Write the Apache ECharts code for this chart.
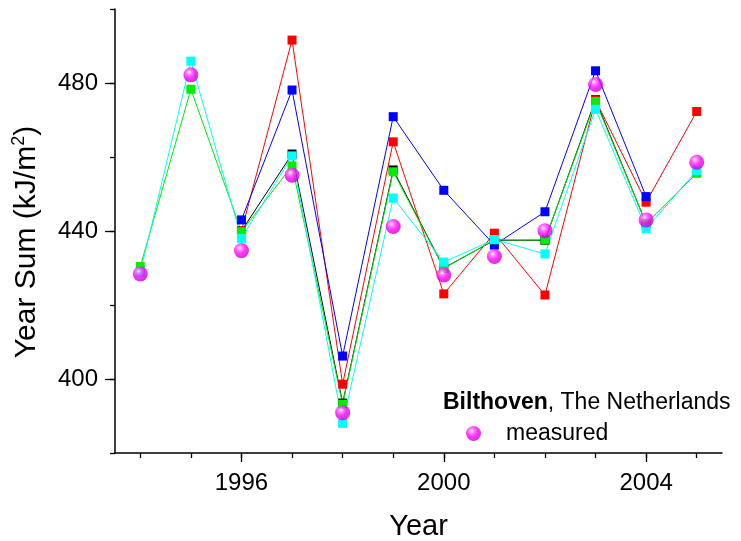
<!DOCTYPE html>
<html>
<head>
<meta charset="utf-8">
<title>Bilthoven year sums</title>
<script src="https://cdn.jsdelivr.net/npm/echarts@6/dist/echarts.min.js"></script>
<style>
  html, body { margin: 0; padding: 0; background: #fff; }
  #chart { width: 741px; height: 541px; }
</style>
</head>
<body>
<div id="chart"></div>
<script>
// Years on the horizontal axis
const years = [1994, 1995, 1996, 1997, 1998, 1999, 2000, 2001, 2002, 2003, 2004, 2005];

// Modelled year sums (kJ/m²); null where a model has no value
const blackValues = [null, null, 440.0, 460.8, 393.5, 456.5, 430.0, 437.5, 437.5, 475.5, 442.0, null];
const redValues   = [null, null, 440.0, 491.6, 398.6, 464.1, 423.0, 439.4, 422.7, 475.4, 447.8, 472.3];
const blueValues  = [null, null, 443.0, 478.1, 406.2, 470.9, 451.0, 436.2, 445.2, 483.3, 449.3, null];
const greenValues = [430.4, 478.3, 439.8, 457.6, 393.2, 456.0, 429.9, 437.6, 437.6, 475.0, 442.0, 455.6];
const cyanValues  = [428.8, 485.9, 438.0, 460.3, 388.0, 448.9, 431.6, 437.7, 433.8, 472.9, 440.6, 456.3];

// Measured year sums
const measuredValues = [428.4, 482.2, 434.7, 455.1, 390.9, 441.2, 428.1, 433.1, 440.1, 479.6, 443.0, 458.6];

// Axis tick labels
const xTickLabels = [1996, 2000, 2004];
const yTickLabels = [400, 440, 480];
const yMinorTicks = [380, 400, 420, 440, 460, 480, 500];

const FONT = '"Liberation Sans", Arial, Helvetica, sans-serif';

function pairs(values) {
  const out = [];
  values.forEach((v, i) => { if (v !== null) out.push([years[i], v]); });
  return out;
}

function modelSeries(name, values, color) {
  return {
    name: name,
    type: 'line',
    data: pairs(values),
    symbol: 'rect',
    symbolSize: 9,
    lineStyle: { color: color, width: 1 },
    itemStyle: { color: color },
    emphasis: { disabled: true },
    animation: false
  };
}

const sphere = {
  type: 'radial', x: 0.38, y: 0.33, r: 0.7,
  colorStops: [
    { offset: 0, color: '#ffffff' },
    { offset: 0.22, color: '#ff66ff' },
    { offset: 0.55, color: '#ff00ff' },
    { offset: 1, color: '#c400c4' }
  ]
};

const chart = echarts.init(document.getElementById('chart'), null, { renderer: 'canvas' });

chart.setOption({
  backgroundColor: '#ffffff',
  animation: false,
  grid: { left: 115, right: 19, top: 9, bottom: 88, containLabel: false, outerBoundsMode: 'none' },
  textStyle: { fontFamily: FONT },
  legend: {
    data: ['measured'],
    left: 461,
    top: 417,
    icon: 'circle',
    itemWidth: 15,
    itemHeight: 15,
    selectedMode: false,
    textStyle: { fontFamily: FONT, fontSize: 23, color: '#000', padding: [0, 0, 0, 20] }
  },
  xAxis: [
    {
      type: 'value', min: 1993.5, max: 2005.5,
      axisLine: { show: true, lineStyle: { color: '#000', width: 1.5 } },
      axisTick: { show: true, length: 5, customValues: years, lineStyle: { color: '#000', width: 1.3 } },
      axisLabel: { show: false },
      splitLine: { show: false },
      name: 'Year', nameLocation: 'middle', nameGap: 59,
      nameTextStyle: { fontFamily: FONT, fontSize: 29, color: '#000' }
    },
    {
      type: 'value', min: 1993.5, max: 2005.5, position: 'bottom',
      axisLine: { show: false },
      axisTick: { show: true, length: 9, customValues: xTickLabels, lineStyle: { color: '#000', width: 1.3 } },
      axisLabel: {
        show: true, customValues: xTickLabels, margin: 18,
        formatter: (v) => String(v),
        fontFamily: FONT, fontSize: 24, color: '#000'
      },
      splitLine: { show: false }
    }
  ],
  yAxis: [
    {
      type: 'value', min: 380, max: 500,
      axisLine: { show: true, lineStyle: { color: '#000', width: 1.5 } },
      axisTick: { show: true, length: 5, customValues: yMinorTicks, lineStyle: { color: '#000', width: 1.3 } },
      axisLabel: { show: false },
      splitLine: { show: false },
      name: '{t|Year Sum (kJ/m}{s|2}{t|)}', nameLocation: 'middle', nameGap: 71,
      nameTextStyle: {
        padding: [0, 22, 0, 0],
        rich: {
          t: { fontFamily: FONT, fontSize: 30, color: '#000', lineHeight: 34 },
          s: { fontFamily: FONT, fontSize: 18, color: '#000', verticalAlign: 'top', lineHeight: 34, padding: [0, 0, 12, 0] }
        }
      }
    },
    {
      type: 'value', min: 380, max: 500, position: 'left',
      axisLine: { show: false },
      axisTick: { show: true, length: 10, customValues: yTickLabels, lineStyle: { color: '#000', width: 1.3 } },
      axisLabel: { show: true, customValues: yTickLabels, margin: 17, fontFamily: FONT, fontSize: 24, color: '#000' },
      splitLine: { show: false }
    }
  ],
  graphic: [
    {
      type: 'text',
      left: 443,
      top: 391,
      style: {
        text: '{b|Bilthoven}{r|, The Netherlands}',
        rich: {
          b: { fontFamily: FONT, fontSize: 23, fontWeight: 'bold', fill: '#000' },
          r: { fontFamily: FONT, fontSize: 23, fill: '#000' }
        }
      }
    }
  ],
  series: [
    modelSeries('black', blackValues, '#000000'),
    modelSeries('red', redValues, '#ff0000'),
    modelSeries('blue', blueValues, '#0000ff'),
    modelSeries('green', greenValues, '#00ee00'),
    modelSeries('cyan', cyanValues, '#00ffff'),
    {
      name: 'measured',
      type: 'scatter',
      data: pairs(measuredValues),
      symbol: 'circle',
      symbolSize: 15,
      itemStyle: { color: sphere },
      emphasis: { disabled: true },
      z: 5
    }
  ]
});
</script>
</body>
</html>
